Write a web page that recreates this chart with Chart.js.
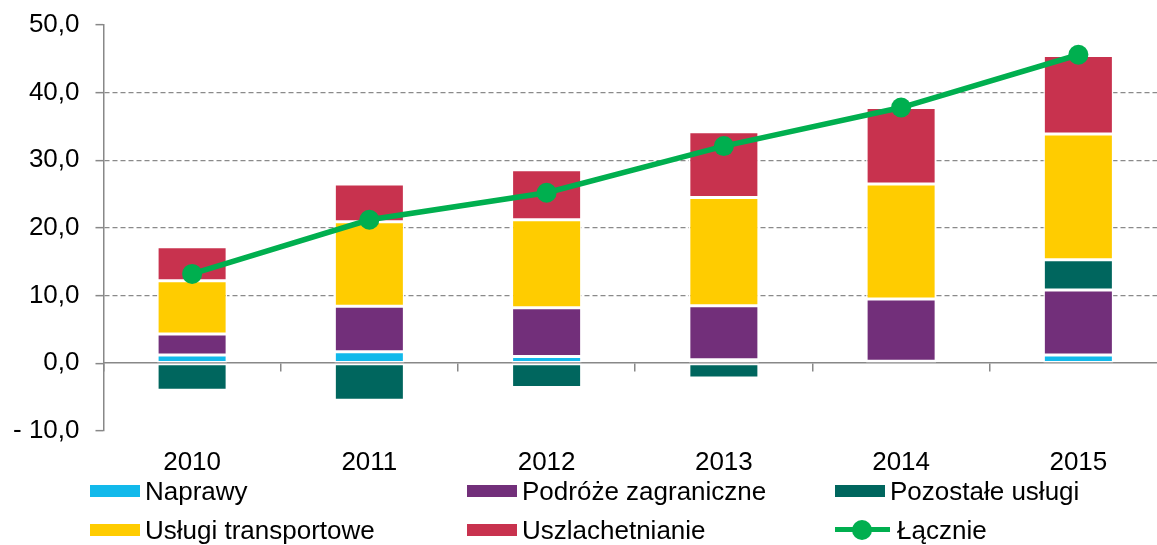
<!DOCTYPE html>
<html>
<head>
<meta charset="utf-8">
<script src="https://cdn.jsdelivr.net/npm/chart.js@4/dist/chart.umd.min.js"></script>
<style>
  body { margin: 0; background: #fff; font-family: "Liberation Sans", Arial, sans-serif; }
  #wrap { position: relative; width: 1157px; height: 545px; overflow: hidden; }
  #box { position: absolute; left: 0; top: 0; width: 1177px; height: 545px; }
  .leg { position: absolute; font-size: 26px; color: #000; white-space: nowrap; line-height: 30px; }
  .leg .box { position: absolute; left: 0; top: 9px; width: 50px; height: 12px; }
  .leg .ln { position: absolute; left: 0; top: 12px; width: 55px; height: 5px; }
  .leg .dot { position: absolute; left: 17px; top: 5px; width: 20px; height: 20px; border-radius: 50%; }
</style>
</head>
<body>
<div id="wrap">
  <div id="box"><canvas id="chart"></canvas></div>
  <div id="legend"></div>
</div>
<script>
const years = ['2010', '2011', '2012', '2013', '2014', '2015'];
const naprawy = [1.2, 1.7, 1.0, 0.5, 0.3, 1.2];
const podroze = [3.1, 6.7, 7.2, 8.0, 9.2, 9.6];
const pozostale = [-4.0, -5.5, -3.6, -2.2, 0.0, 4.5];
const transport = [7.9, 12.5, 13.0, 16.0, 17.0, 18.6];
const uszlachetnianie = [5.0, 5.6, 7.4, 9.7, 11.3, 11.6];
const lacznie = [13.2, 21.2, 25.2, 32.1, 37.8, 45.6];
const yTicks = [-10, 0, 10, 20, 30, 40, 50];

const font = { family: '"Liberation Sans", Arial, sans-serif', size: 26 };

function bar(label, data, color) {
  return {
    type: 'bar', label: label, data: data, backgroundColor: color,
    borderColor: '#fff', borderWidth: 1.5, borderSkipped: false,
    barPercentage: 1, categoryPercentage: 0.395, order: 1, stack: 'a'
  };
}

const noPad = s => { s.paddingTop = 0; s.paddingBottom = 0; s.paddingLeft = 0; s.paddingRight = 0; };

const ctx = document.getElementById('chart').getContext('2d');
const chart = new Chart(ctx, {
  data: {
    labels: years,
    datasets: [
      bar('Naprawy', naprawy, '#12B9EB'),
      bar('Podróże zagraniczne', podroze, '#722F7A'),
      bar('Pozostałe usługi', pozostale, '#00665E'),
      bar('Usługi transportowe', transport, '#FFCC00'),
      bar('Uszlachetnianie', uszlachetnianie, '#C8324E'),
      {
        type: 'line', label: 'Łącznie', data: lacznie, stack: 'total', order: 0,
        borderColor: '#00AF4F', backgroundColor: '#00AF4F', borderWidth: 5.5,
        pointRadius: 10, pointBackgroundColor: '#00AF4F', pointBorderWidth: 0, tension: 0
      }
    ]
  },
  options: {
    responsive: true,
    maintainAspectRatio: false,
    animation: false,
    layout: { padding: { top: 25, left: -3, right: 0, bottom: 51 } },
    plugins: { legend: { display: false }, tooltip: { enabled: false } },
    scales: {
      x: {
        stacked: true,
        offset: true,
        afterFit: noPad,
        grid: { display: false, drawTicks: false },
        border: { display: false },
        ticks: { font: font, color: '#000', padding: 16, maxRotation: 0 }
      },
      x2: {
        type: 'category',
        labels: years,
        offset: true,
        position: { y: 0 },
        afterFit: noPad,
        grid: { offset: true, drawOnChartArea: false, drawTicks: true, tickLength: 8, color: '#888', lineWidth: 1.5 },
        border: { display: true, color: '#888', width: 1.5 },
        ticks: { display: false }
      },
      y: {
        stacked: true,
        min: -10,
        max: 50,
        afterFit: noPad,
        afterBuildTicks: axis => { axis.ticks = yTicks.map(v => ({ value: v })); },
        grid: {
          color: c => (c.tick && c.tick.value > 0 && c.tick.value < 50) ? '#8a8a8a' : 'rgba(0,0,0,0)',
          lineWidth: 1.3,
          tickLength: 8,
          tickColor: '#888',
          tickWidth: 1.5,
          tickBorderDash: []
        },
        border: { display: true, color: '#888', width: 1.5, dash: [5, 3] },
        ticks: {
          font: font, color: '#000', padding: 16,
          callback: v => (v < 0 ? '- ' : '') + Math.abs(v).toFixed(1).replace('.', ',')
        }
      }
    }
  }
});

// legend in three fixed columns, two rows, built from the chart's datasets
const cols = [90, 467, 835];
const rows = [476, 515];
const legend = document.getElementById('legend');
chart.data.datasets.forEach((ds, i) => {
  const el = document.createElement('div');
  el.className = 'leg';
  el.style.left = cols[i % 3] + 'px';
  el.style.top = rows[Math.floor(i / 3)] + 'px';
  if (ds.type === 'line') {
    el.innerHTML = '<span class="ln" style="background:' + ds.borderColor + '"></span>' +
      '<span class="dot" style="background:' + ds.borderColor + '"></span>';
    el.style.paddingLeft = '62px';
  } else {
    el.innerHTML = '<span class="box" style="background:' + ds.backgroundColor + '"></span>';
    el.style.paddingLeft = '55px';
  }
  el.appendChild(document.createTextNode(ds.label));
  legend.appendChild(el);
});
</script>
</body>
</html>
